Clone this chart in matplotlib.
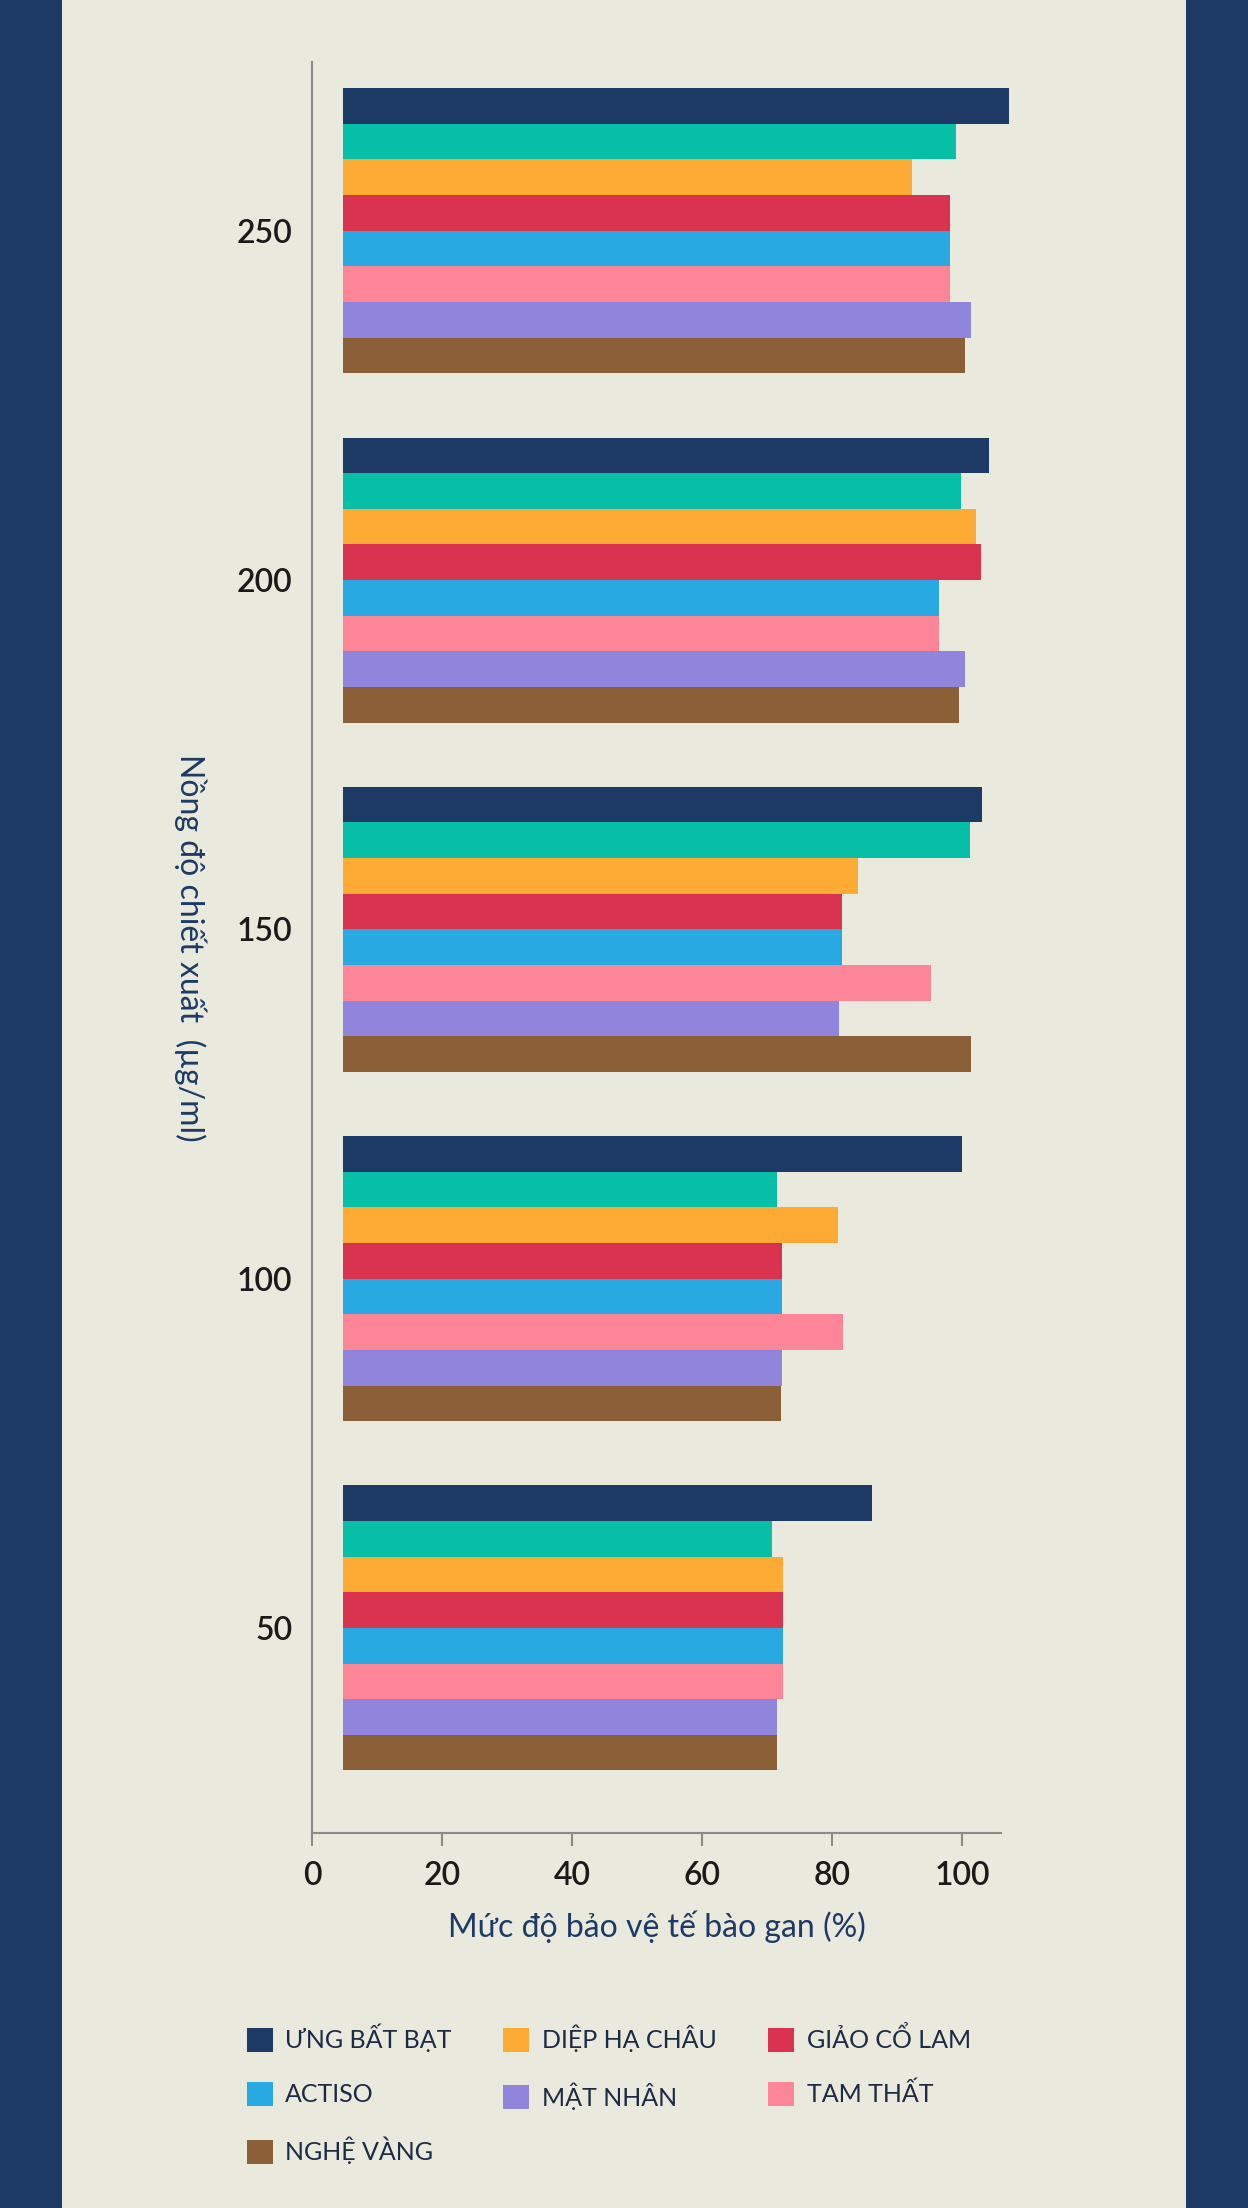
"""Horizontal grouped bars: liver-cell protection by extract concentration."""

import matplotlib.pyplot as plt
import numpy as np
from matplotlib.patches import Rectangle

plt.rcParams["font.family"] = ["Lato", "DejaVu Sans"]

CONCENTRATIONS = ["50", "100", "150", "200", "250"]

# series in drawing order (top bar of each group first); values per concentration 50..250
SERIES_NAMES = [
    "ƯNG BẤT BẠT",
    "",  # teal series, not in the legend
    "DIỆP HẠ CHÂU",
    "GIẢO CỔ LAM",
    "ACTISO",
    "TAM THẤT",
    "MẬT NHÂN",
    "NGHỆ VÀNG",
]
ung_bat_bat = [86.2, 100.0, 103.1, 104.2, 107.2]
teal_series = [70.7, 71.5, 101.2, 99.8, 99.1]
diep_ha_chau = [72.4, 80.9, 84.0, 102.1, 92.3]
giao_co_lam = [72.4, 72.3, 81.6, 102.9, 98.1]
actiso = [72.4, 72.3, 81.6, 96.5, 98.1]
tam_that = [72.4, 81.7, 95.3, 96.5, 98.1]
mat_nhan = [71.6, 72.3, 81.1, 100.4, 101.4]
nghe_vang = [71.6, 72.1, 101.4, 99.5, 100.4]
SERIES_VALUES = [ung_bat_bat, teal_series, diep_ha_chau, giao_co_lam,
                 actiso, tam_that, mat_nhan, nghe_vang]

COLORS = ["#1d3a66", "#07bfa6", "#fdab35", "#da334f",
          "#29a9e1", "#fd8598", "#9084dc", "#8b5f37"]

LEGEND_ORDER = ["ƯNG BẤT BẠT", "ACTISO", "NGHỆ VÀNG",
                "DIỆP HẠ CHÂU", "MẬT NHÂN", "GIẢO CỔ LAM", "TAM THẤT"]

BG = "#eae9dd"
NAVY = "#1d3a66"
BAR_START = 4.7
BAR_H = 0.102

fig = plt.figure(figsize=(12.48, 22.08), dpi=100, facecolor=BG)
fig.patches.append(Rectangle((0, 0), 62 / 1248, 1, transform=fig.transFigure,
                             facecolor=NAVY, edgecolor="none", zorder=0))
fig.patches.append(Rectangle((1186 / 1248, 0), 62 / 1248, 1, transform=fig.transFigure,
                             facecolor=NAVY, edgecolor="none", zorder=0))

ax = fig.add_axes([312 / 1248, 1 - 1833 / 2208, 689 / 1248, (1833 - 62) / 2208])
ax.set_facecolor(BG)

y = np.arange(len(CONCENTRATIONS))
n = len(SERIES_VALUES)
handles = {}
for j, (name, vals, color) in enumerate(zip(SERIES_NAMES, SERIES_VALUES, COLORS)):
    vals = np.asarray(vals)
    bars = ax.barh(y + (n / 2 - 0.5 - j) * BAR_H, vals - BAR_START, left=BAR_START,
                   height=BAR_H, color=color, edgecolor="none")
    for b in bars:
        b.set_clip_on(False)
    if name:
        handles[name] = bars

ax.set_xlim(0, 106)
ax.set_ylim(-0.587, 4.483)
ax.set_xticks(range(0, 101, 20))
ax.set_yticks(y)
ax.set_yticklabels(CONCENTRATIONS)

for side in ["top", "right"]:
    ax.spines[side].set_visible(False)
for side in ["left", "bottom"]:
    ax.spines[side].set_color("#8a8a8a")
    ax.spines[side].set_linewidth(1.5)

ax.tick_params(axis="x", length=9, width=1.5, color="#8a8a8a", pad=11,
               labelsize=23, labelcolor="#1a1a1a")
ax.tick_params(axis="y", length=0, pad=14, labelsize=23, labelcolor="#1a1a1a")
for lbl in ax.get_xticklabels() + ax.get_yticklabels():
    lbl.set_fontweight("semibold")

ax.set_xlabel("Mức độ bảo vệ tế bào gan (%)", fontsize=23, color=NAVY, labelpad=14)
ax.set_ylabel("Nồng độ chiết xuất  (µg/ml)", fontsize=23, color=NAVY, rotation=270)
ax.yaxis.set_label_coords(-(312 - 174) / 689, 0.5)

fig.legend([handles[k] for k in LEGEND_ORDER], LEGEND_ORDER,
           loc="upper left", bbox_to_anchor=(224 / 1248, 1 - 2001 / 2208),
           ncol=3, frameon=False, fontsize=18, labelcolor="#1d2a44",
           handlelength=1.05, handleheight=1.1, handletextpad=0.5,
           columnspacing=2.05, labelspacing=1.2)

plt.savefig("out.png", dpi=100, facecolor=BG)
plt.close()
